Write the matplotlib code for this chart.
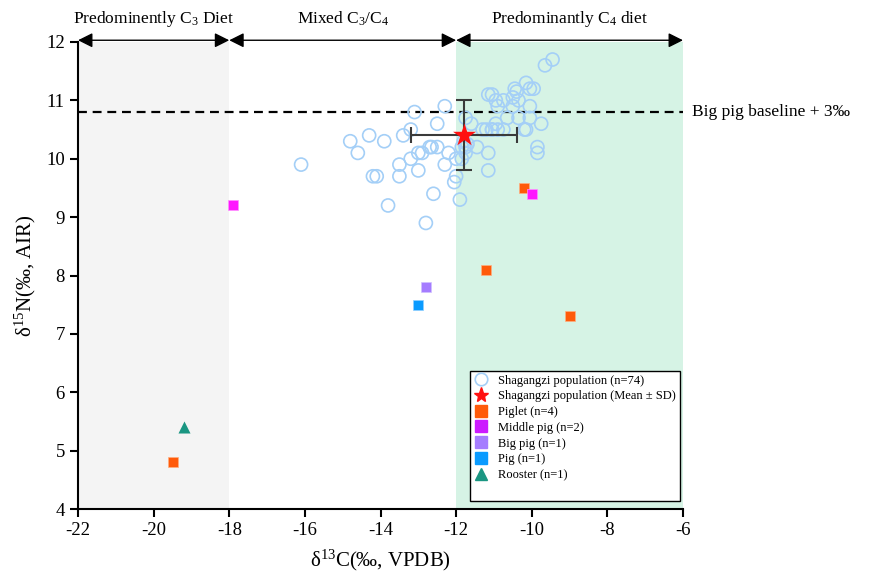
import matplotlib
matplotlib.use("Agg")
import matplotlib.pyplot as plt
from matplotlib.lines import Line2D

plt.rcParams['font.family'] = ['Liberation Serif', 'DejaVu Serif']
plt.rcParams['mathtext.fontset'] = 'custom'
plt.rcParams['mathtext.rm'] = 'Liberation Serif'
plt.rcParams['mathtext.it'] = 'Liberation Serif:italic'
plt.rcParams['axes.unicode_minus'] = False

# Shagangzi population (human) values
pop_c = [-16.1, -14.8, -14.3, -14.6, -13.9, -13.1, -12.3, -12.5, -13.2, -13.4,
         -12.7, -12.65, -12.5, -13.0, -12.9, -13.2, -13.5, -13.0, -12.2, -12.3,
         -14.2, -14.1, -13.5, -12.6, -13.8, -12.8, -12.05,
         -9.45, -9.65, -10.15, -10.45, -10.4, -10.05, -9.95, -11.15, -11.05, -10.95,
         -10.75, -10.9, -10.5, -10.35, -10.5, -10.05, -10.65, -10.35, -10.05, -9.75,
         -10.95, -11.75, -11.6, -11.3, -11.2, -11.05, -10.9, -10.75, -10.2, -10.15,
         -11.45, -11.15, -9.85, -9.85, -11.15, -11.75, -11.75, -12.0, -12.0, -11.9,
         -11.85, -11.8, -11.85, -11.05, -11.7]
pop_n = [9.9, 10.3, 10.4, 10.1, 10.3, 10.8, 10.9, 10.6, 10.5, 10.4,
         10.2, 10.2, 10.2, 10.1, 10.1, 10.0, 9.9, 9.8, 10.1, 9.9,
         9.7, 9.7, 9.7, 9.4, 9.2, 8.9, 9.6,
         11.7, 11.6, 11.3, 11.2, 11.15, 11.2, 11.2, 11.1, 11.1, 11.0,
         11.0, 10.9, 11.05, 11.0, 10.9, 10.9, 10.7, 10.7, 10.7, 10.6,
         10.6, 10.7, 10.6, 10.5, 10.5, 10.5, 10.5, 10.5, 10.5, 10.5,
         10.2, 10.1, 10.2, 10.1, 9.8, 10.2, 10.1, 10.0, 9.7, 9.3,
         10.0, 10.3, 10.2, 10.5, 10.25]

mean_c, mean_n = -11.8, 10.4
sd_c, sd_n = 1.4, 0.6

piglet_c = [-19.5, -10.2, -11.2, -9.0]
piglet_n = [4.8, 9.5, 8.1, 7.3]
middle_c = [-17.9, -10.0]
middle_n = [9.2, 9.4]
bigpig_c = [-12.8]
bigpig_n = [7.8]
pig_c = [-13.0]
pig_n = [7.5]
rooster_c = [-19.2]
rooster_n = [5.4]

baseline = 10.8

regions = [(-22, -18, 'Predominently C$_3$ Diet'),
           (-18, -12, 'Mixed C$_3$/C$_4$'),
           (-12, -6, 'Predominantly C$_4$ diet')]

fig = plt.figure(figsize=(8.92, 5.83), dpi=100)
ax = fig.add_axes([78/892, 1-509/583, 605/892, 467/583])

ax.axvspan(-22, -18, color='#f4f4f4', zorder=0, lw=0)
ax.axvspan(-12, -6, color='#d6f3e5', zorder=0, lw=0)

ax.axhline(baseline, color='black', lw=1.6, ls=(0, (4, 2.6)), zorder=2)
ax.text(-5.75, baseline, 'Big pig baseline + 3‰', fontsize=12.5, va='center', ha='left')

ax.scatter(pop_c, pop_n, s=88, facecolors='none', edgecolors='#a4cff7', linewidths=1.2, zorder=3)

ax.errorbar([mean_c], [mean_n], xerr=[sd_c], yerr=[sd_n], fmt='none', ecolor='#3a3a3a',
            elinewidth=1.5, capsize=6, capthick=1.5, zorder=4)
ax.scatter([mean_c], [mean_n], marker='*', s=300, color='#ff1010', zorder=5, lw=0)

ax.scatter(piglet_c, piglet_n, marker='s', s=55, color='#ff5a0a', zorder=4, edgecolors='#ffb080', linewidths=0.5)
ax.scatter(middle_c, middle_n, marker='s', s=55, color='#ff18ff', zorder=4, edgecolors='#ff90ff', linewidths=0.5)
ax.scatter(bigpig_c, bigpig_n, marker='s', s=55, color='#a57cff', zorder=4, edgecolors='#d0c0ff', linewidths=0.5)
ax.scatter(pig_c, pig_n, marker='s', s=55, color='#0a9bff', zorder=4, edgecolors='#90d0ff', linewidths=0.5)
ax.scatter(rooster_c, rooster_n, marker='^', s=75, color='#1a9682', zorder=4, lw=0)

# region arrows and labels
for x0, x1, lab in regions:
    ax.annotate('', xy=(x1, 12.03), xytext=(x0, 12.03), xycoords='data',
                arrowprops=dict(arrowstyle='<|-|>', color='black', lw=1.0,
                                mutation_scale=22, shrinkA=0, shrinkB=0),
                annotation_clip=False)
    ax.text((x0 + x1) / 2, 12.40, lab, fontsize=12.5, ha='center', va='center')

ax.set_xlim(-22, -6)
ax.set_ylim(4, 12)
ax.set_xticks(range(-22, -5, 2))
ax.set_yticks(range(4, 13))
ax.spines['top'].set_visible(False)
ax.spines['right'].set_visible(False)
ax.spines['left'].set_linewidth(1.5)
ax.spines['bottom'].set_linewidth(1.5)
ax.tick_params(direction='out', length=6, width=1.5, labelsize=13.5)

ax.set_xlabel('δ$^{13}$C(‰, VPDB)', fontsize=15, labelpad=6)
ax.set_ylabel('δ$^{15}$N(‰, AIR)', fontsize=15, labelpad=6)

handles = [
    Line2D([], [], ls='none', marker='o', markersize=9, markerfacecolor='none',
           markeredgecolor='#a4cff7', markeredgewidth=1.2),
    Line2D([], [], ls='none', marker='*', markersize=11, color='#ff1010'),
    Line2D([], [], ls='none', marker='s', markersize=8, color='#ff5a0a'),
    Line2D([], [], ls='none', marker='s', markersize=8, color='#cc1aff'),
    Line2D([], [], ls='none', marker='s', markersize=8, color='#a57cff'),
    Line2D([], [], ls='none', marker='s', markersize=8, color='#0a9bff'),
    Line2D([], [], ls='none', marker='^', markersize=8, color='#1a9682'),
    Line2D([], [], ls='none'),
]
labels = ['Shagangzi population (n=74)', 'Shagangzi population (Mean ± SD)',
          'Piglet (n=4)', 'Middle pig (n=2)', 'Big pig (n=1)', 'Pig (n=1)',
          'Rooster (n=1)', ' ']
leg = ax.legend(handles, labels, loc='lower right', bbox_to_anchor=(0.995, 0.018),
                fontsize=9, frameon=True, fancybox=False, edgecolor='black',
                framealpha=1, labelspacing=0.3, handletextpad=0.8,
                borderpad=0.3, handlelength=1.2, borderaxespad=0)
leg.get_frame().set_linewidth(1.0)

fig.savefig('out.png', dpi=100)
